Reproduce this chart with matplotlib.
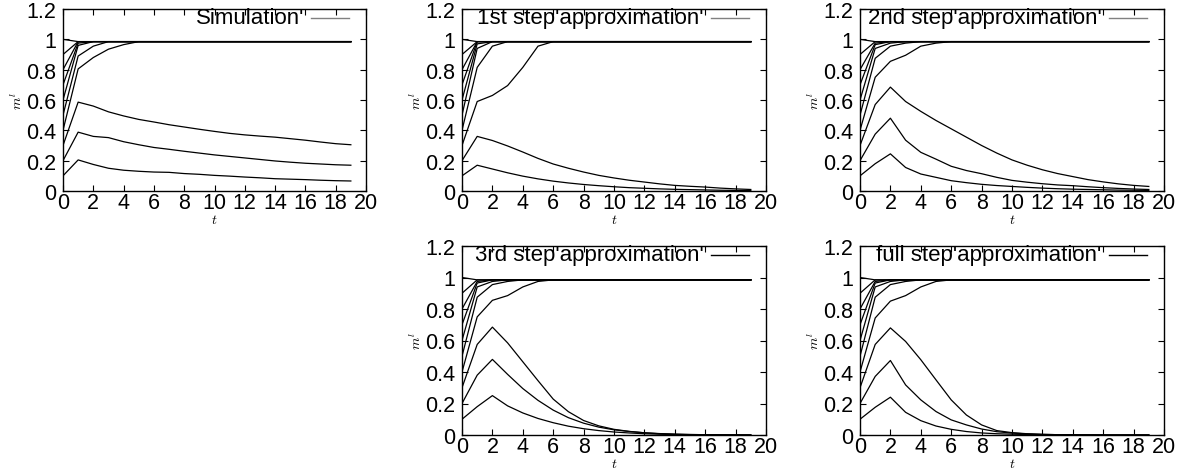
import numpy as np
import matplotlib
matplotlib.use("Agg")
import matplotlib.pyplot as plt

plt.rcParams['font.family'] = ['Liberation Sans', 'DejaVu Sans']
plt.rcParams['mathtext.fontset'] = 'cm'

t = list(range(20))
H = 0.985  # saturated level


def sat(head):
    # curve that reaches the saturated level and stays there
    return head + [H] * (20 - len(head))


sim = [
    [0.10, 0.205, 0.175, 0.15, 0.137, 0.13, 0.125, 0.123, 0.115, 0.11, 0.103, 0.098, 0.092, 0.087, 0.081, 0.078, 0.075, 0.071, 0.068, 0.066],
    [0.20, 0.388, 0.36, 0.352, 0.325, 0.305, 0.287, 0.275, 0.262, 0.25, 0.238, 0.228, 0.218, 0.208, 0.198, 0.19, 0.183, 0.178, 0.173, 0.17],
    [0.30, 0.586, 0.56, 0.522, 0.495, 0.472, 0.455, 0.437, 0.422, 0.407, 0.393, 0.38, 0.37, 0.362, 0.355, 0.345, 0.335, 0.323, 0.312, 0.305],
    sat([0.40, 0.805, 0.88, 0.935, 0.965]),
    sat([0.50, 0.89, 0.955]),
    sat([0.60, 0.96]),
    sat([0.70, 0.975]),
    sat([0.80]),
    sat([0.90]),
    sat([1.00]),
]

step1 = [
    [0.10, 0.17, 0.145, 0.12, 0.098, 0.08, 0.065, 0.053, 0.043, 0.035, 0.028, 0.022, 0.018, 0.014, 0.011, 0.009, 0.007, 0.005, 0.004, 0.003],
    [0.20, 0.36, 0.333, 0.297, 0.257, 0.215, 0.178, 0.15, 0.125, 0.103, 0.086, 0.071, 0.059, 0.047, 0.037, 0.031, 0.026, 0.019, 0.014, 0.01],
    sat([0.30, 0.59, 0.63, 0.695, 0.815, 0.955]),
    sat([0.40, 0.815, 0.955]),
    sat([0.50, 0.94]),
    sat([0.60, 0.97]),
    sat([0.70]),
    sat([0.80]),
    sat([0.90]),
    sat([1.00]),
]

step2 = [
    [0.10, 0.18, 0.245, 0.155, 0.112, 0.09, 0.068, 0.055, 0.044, 0.036, 0.03, 0.024, 0.019, 0.015, 0.012, 0.01, 0.008, 0.006, 0.005, 0.004],
    [0.20, 0.375, 0.48, 0.335, 0.255, 0.21, 0.163, 0.135, 0.114, 0.09, 0.07, 0.058, 0.048, 0.04, 0.035, 0.028, 0.022, 0.017, 0.013, 0.01],
    [0.30, 0.57, 0.685, 0.59, 0.525, 0.465, 0.41, 0.355, 0.30, 0.25, 0.205, 0.17, 0.14, 0.115, 0.095, 0.075, 0.06, 0.047, 0.037, 0.03],
    sat([0.40, 0.75, 0.855, 0.895, 0.955, 0.975]),
    sat([0.50, 0.875, 0.955, 0.975]),
    sat([0.60, 0.94, 0.975]),
    sat([0.70, 0.965]),
    sat([0.80, 0.975]),
    sat([0.90]),
    sat([1.00]),
]

step3 = [
    [0.10, 0.18, 0.25, 0.185, 0.14, 0.105, 0.078, 0.056, 0.04, 0.028, 0.019, 0.013, 0.008, 0.005, 0.003, 0.002, 0.001, 0.001, 0.0, 0.0],
    [0.20, 0.38, 0.48, 0.385, 0.295, 0.22, 0.158, 0.11, 0.075, 0.05, 0.033, 0.022, 0.014, 0.009, 0.005, 0.003, 0.002, 0.001, 0.001, 0.0],
    [0.30, 0.575, 0.685, 0.585, 0.465, 0.345, 0.228, 0.148, 0.092, 0.058, 0.036, 0.023, 0.014, 0.008, 0.005, 0.003, 0.002, 0.001, 0.0, 0.0],
    sat([0.40, 0.75, 0.855, 0.885, 0.94, 0.975]),
    sat([0.50, 0.875, 0.955, 0.975]),
    sat([0.60, 0.94, 0.975]),
    sat([0.70, 0.965]),
    sat([0.80, 0.975]),
    sat([0.90]),
    sat([1.00]),
]

full = [
    [0.10, 0.176, 0.24, 0.144, 0.091, 0.057, 0.036, 0.022, 0.013, 0.008, 0.005, 0.003, 0.002, 0.001, 0.001, 0.0, 0.0, 0.0, 0.0, 0.0],
    [0.20, 0.372, 0.473, 0.318, 0.223, 0.149, 0.096, 0.064, 0.038, 0.021, 0.012, 0.007, 0.004, 0.002, 0.001, 0.001, 0.0, 0.0, 0.0, 0.0],
    [0.30, 0.575, 0.68, 0.594, 0.478, 0.35, 0.223, 0.127, 0.064, 0.028, 0.015, 0.008, 0.004, 0.002, 0.001, 0.001, 0.0, 0.0, 0.0, 0.0],
    sat([0.40, 0.743, 0.85, 0.885, 0.94, 0.975]),
    sat([0.50, 0.875, 0.955, 0.975]),
    sat([0.60, 0.94, 0.975]),
    sat([0.70, 0.965]),
    sat([0.80, 0.975]),
    sat([0.90]),
    sat([1.00]),
]

titles = ["Simulation'", "1st step'approximation'", "2nd step'approximation'",
          "3rd step'approximation'", "full step'approximation'"]
datasets = [sim, step1, step2, step3, full]
key_colors = ['#808080', '#808080', '#808080', 'black', 'black']

W, Hpx = 1185, 477
# axes boxes in pixels: left, top, right, bottom
boxes = [(63, 10, 366, 192), (462, 10, 766, 192), (860, 10, 1164, 192),
         (462, 247, 766, 436), (860, 247, 1164, 436)]

fig = plt.figure(figsize=(W / 100, Hpx / 100), dpi=100)

for box, data, title, kc in zip(boxes, datasets, titles, key_colors):
    l, tp, r, b = box
    ax = fig.add_axes([l / W, 1 - b / Hpx, (r - l) / W, (b - tp) / Hpx])
    for curve in data:
        ax.plot(t, curve, color='black', lw=0.9)
    ax.set_xlim(0, 20)
    ax.set_ylim(0, 1.2)
    ax.set_xticks(np.arange(0, 21, 2))
    ax.set_yticks(np.arange(0, 1.21, 0.2))
    ax.set_yticklabels(['0', '0.2', '0.4', '0.6', '0.8', '1', '1.2'])
    ax.tick_params(direction='in', top=True, right=True, length=4, width=0.8,
                   labelsize=15.5)
    ax.tick_params(axis='x', pad=1)
    ax.tick_params(axis='y', pad=5)
    for sp in ax.spines.values():
        sp.set_linewidth(1.0)
    ax.set_xlabel('$t$', fontsize=10, labelpad=-1)
    ax.set_ylabel('$m^l$', fontsize=10, labelpad=1)
    # gnuplot style key
    ax.text(0.795, 0.953, title, transform=ax.transAxes, ha='right',
            va='center', fontsize=16)
    ax.plot([0.82, 0.945], [0.95, 0.95], transform=ax.transAxes,
            color=kc, lw=1.0)

fig.savefig('out.png', dpi=100)
